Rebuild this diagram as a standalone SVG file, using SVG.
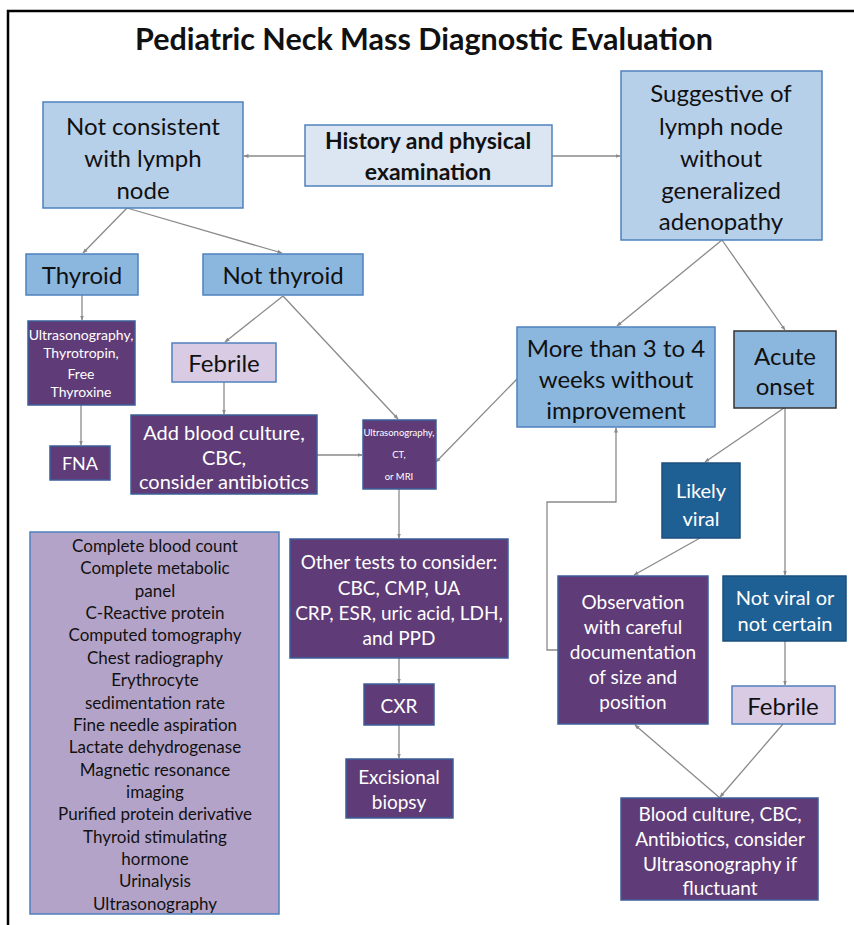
<svg xmlns="http://www.w3.org/2000/svg" width="854" height="925" viewBox="0 0 854 925">
<defs>
<marker id="ah" viewBox="0 0 10 10" refX="9" refY="5" markerWidth="5" markerHeight="5" orient="auto" markerUnits="userSpaceOnUse">
<path d="M0,1 L10,5 L0,9 z" fill="#8a8a8a"/>
</marker>
<style>
text{font-family:Lato,"Open Sans","Liberation Sans",sans-serif;text-anchor:middle;dominant-baseline:central}
.lb{fill:#b7d0ea;stroke:#4f81bd;stroke-width:1.5}
.pl{fill:#dce6f2;stroke:#4f81bd;stroke-width:1.5}
.mb{fill:#8bb7df;stroke:#4f81bd;stroke-width:1.5}
.dp{fill:#5f3b77;stroke:#3b5f9a;stroke-width:1.5}
.db{fill:#1f6094;stroke:#1a4f7c;stroke-width:1.5}
.lv{fill:#d9cbe4;stroke:#4f81bd;stroke-width:1.5}
.ls{fill:#b4a3c8;stroke:#4f81bd;stroke-width:1.5}
.dk{fill:#111}
.wt{fill:#fff}
.c{fill:none;stroke:#8a8a8a;stroke-width:1.3;marker-end:url(#ah)}
</style>
</defs>
<rect width="854" height="925" fill="#fff"/>
<path d="M8,925 V11 H854" fill="none" stroke="#000" stroke-width="2.5"/>
<text x="424" y="38" font-size="30.5" font-weight="bold" class="dk">Pediatric Neck Mass Diagnostic Evaluation</text>

<g id="connectors">
<path class="c" d="M305,156 H244"/>
<path class="c" d="M552,156 H620"/>
<path class="c" d="M127,208 L83,253"/>
<path class="c" d="M127,208 L282,253"/>
<path class="c" d="M82,295 V320"/>
<path class="c" d="M81,405 V445"/>
<path class="c" d="M283,296 L225,342"/>
<path class="c" d="M283,296 L398,419"/>
<path class="c" d="M224,382 V414"/>
<path class="c" d="M317,455 H362"/>
<path class="c" d="M722,240 L617,326"/>
<path class="c" d="M722,240 L785,330"/>
<path class="c" d="M517,379 L436,462"/>
<path class="c" d="M784,408 L705,462"/>
<path class="c" d="M785,408 V575"/>
<path class="c" d="M700,538 L634,575"/>
<path class="c" d="M558,650 H547 V502 H616 V428"/>
<path class="c" d="M785,640 V685"/>
<path class="c" d="M783,724 L720,797"/>
<path class="c" d="M720,798 L635,725"/>
<path class="c" d="M399,489 V538"/>
<path class="c" d="M399,658 V683"/>
<path class="c" d="M399,725 V758"/>
</g>

<g id="not-consistent">
<rect class="lb" x="43" y="102" width="200" height="106"/>
<text x="143" y="125" font-size="24" class="dk">Not consistent</text>
<text x="143" y="157" font-size="24" class="dk">with lymph</text>
<text x="143" y="189" font-size="24" class="dk">node</text>
</g>
<g id="history">
<rect class="pl" x="305" y="125" width="247" height="61"/>
<text x="428" y="140" font-size="23" font-weight="bold" class="dk">History and physical</text>
<text x="428" y="171" font-size="23" font-weight="bold" class="dk">examination</text>
</g>
<g id="suggestive">
<rect class="lb" x="621" y="71" width="201" height="169"/>
<text x="721" y="92" font-size="24" class="dk">Suggestive of</text>
<text x="721" y="125" font-size="24" class="dk">lymph node</text>
<text x="721" y="157" font-size="24" class="dk">without</text>
<text x="721" y="189" font-size="24" class="dk">generalized</text>
<text x="721" y="220" font-size="24" class="dk">adenopathy</text>
</g>
<g id="thyroid">
<rect class="mb" x="26" y="254" width="112" height="41"/>
<text x="82" y="274" font-size="24" class="dk">Thyroid</text>
</g>
<g id="not-thyroid">
<rect class="mb" x="203" y="254" width="160" height="41"/>
<text x="283" y="274" font-size="24" class="dk">Not thyroid</text>
</g>
<g id="thyroid-tests">
<rect class="dp" x="28" y="321" width="107" height="84"/>
<text x="81" y="334" font-size="14" class="wt">Ultrasonography,</text>
<text x="81" y="352" font-size="14" class="wt">Thyrotropin,</text>
<text x="81" y="373" font-size="14" class="wt">Free</text>
<text x="81" y="391" font-size="14" class="wt">Thyroxine</text>
</g>
<g id="fna">
<rect class="dp" x="50" y="446" width="60" height="34"/>
<text x="80" y="463" font-size="18" class="wt">FNA</text>
</g>
<g id="febrile-left">
<rect class="lv" x="172" y="343" width="104" height="39"/>
<text x="224" y="362" font-size="24" class="dk">Febrile</text>
</g>
<g id="add-blood">
<rect class="dp" x="131" y="415" width="186" height="79"/>
<text x="224" y="432" font-size="20" class="wt">Add blood culture,</text>
<text x="224" y="457" font-size="20" class="wt">CBC,</text>
<text x="224" y="481" font-size="20" class="wt">consider antibiotics</text>
</g>
<g id="imaging">
<rect class="dp" x="363" y="420" width="73" height="69"/>
<text x="399" y="432" font-size="9.5" class="wt">Ultrasonography,</text>
<text x="399" y="454" font-size="9.5" class="wt">CT,</text>
<text x="399" y="476" font-size="9.5" class="wt">or MRI</text>
</g>
<g id="more-than">
<rect class="mb" x="517" y="327" width="198" height="100"/>
<text x="616" y="347" font-size="24" class="dk">More than 3 to 4</text>
<text x="616" y="378" font-size="24" class="dk">weeks without</text>
<text x="616" y="409" font-size="24" class="dk">improvement</text>
</g>
<g id="acute">
<rect class="mb" x="734" y="331" width="102" height="77" style="stroke:#333"/>
<text x="785" y="355" font-size="24" class="dk">Acute</text>
<text x="785" y="385" font-size="24" class="dk">onset</text>
</g>
<g id="likely-viral">
<rect class="db" x="662" y="463" width="78" height="75"/>
<text x="701" y="490" font-size="20" class="wt">Likely</text>
<text x="701" y="518" font-size="20" class="wt">viral</text>
</g>
<g id="not-viral">
<rect class="db" x="723" y="576" width="123" height="65"/>
<text x="785" y="597" font-size="20" class="wt">Not viral or</text>
<text x="785" y="623" font-size="20" class="wt">not certain</text>
</g>
<g id="observation">
<rect class="dp" x="558" y="576" width="150" height="148"/>
<text x="633" y="601" font-size="19" class="wt">Observation</text>
<text x="633" y="626" font-size="19" class="wt">with careful</text>
<text x="633" y="651" font-size="19" class="wt">documentation</text>
<text x="633" y="676" font-size="19" class="wt">of size and</text>
<text x="633" y="701" font-size="19" class="wt">position</text>
</g>
<g id="febrile-right">
<rect class="lv" x="732" y="686" width="103" height="38"/>
<text x="783" y="705" font-size="24" class="dk">Febrile</text>
</g>
<g id="blood-culture">
<rect class="dp" x="621" y="798" width="197" height="102"/>
<text x="720" y="813" font-size="19" class="wt">Blood culture, CBC,</text>
<text x="720" y="838" font-size="19" class="wt">Antibiotics, consider</text>
<text x="720" y="863" font-size="19" class="wt">Ultrasonography if</text>
<text x="720" y="887" font-size="19" class="wt">fluctuant</text>
</g>
<g id="other-tests">
<rect class="dp" x="290" y="539" width="218" height="119"/>
<text x="399" y="561" font-size="19" class="wt">Other tests to consider:</text>
<text x="399" y="587" font-size="19" class="wt">CBC, CMP, UA</text>
<text x="399" y="612" font-size="19" class="wt">CRP, ESR, uric acid, LDH,</text>
<text x="399" y="637" font-size="19" class="wt">and PPD</text>
</g>
<g id="cxr">
<rect class="dp" x="364" y="684" width="70" height="41"/>
<text x="399" y="705" font-size="19" class="wt">CXR</text>
</g>
<g id="excisional">
<rect class="dp" x="346" y="759" width="107" height="59"/>
<text x="399" y="776" font-size="19" class="wt">Excisional</text>
<text x="399" y="801" font-size="19" class="wt">biopsy</text>
</g>
<g id="abbreviations">
<rect class="ls" x="30" y="532" width="249" height="382"/>
<text x="155" y="545" font-size="17" class="dk">Complete blood count</text>
<text x="155" y="567" font-size="17" class="dk">Complete metabolic</text>
<text x="155" y="590" font-size="17" class="dk">panel</text>
<text x="155" y="612" font-size="17" class="dk">C-Reactive protein</text>
<text x="155" y="634" font-size="17" class="dk">Computed tomography</text>
<text x="155" y="657" font-size="17" class="dk">Chest radiography</text>
<text x="155" y="679" font-size="17" class="dk">Erythrocyte</text>
<text x="155" y="702" font-size="17" class="dk">sedimentation rate</text>
<text x="155" y="724" font-size="17" class="dk">Fine needle aspiration</text>
<text x="155" y="746" font-size="17" class="dk">Lactate dehydrogenase</text>
<text x="155" y="769" font-size="17" class="dk">Magnetic resonance</text>
<text x="155" y="791" font-size="17" class="dk">imaging</text>
<text x="155" y="813" font-size="17" class="dk">Purified protein derivative</text>
<text x="155" y="836" font-size="17" class="dk">Thyroid stimulating</text>
<text x="155" y="858" font-size="17" class="dk">hormone</text>
<text x="155" y="880" font-size="17" class="dk">Urinalysis</text>
<text x="155" y="903" font-size="17" class="dk">Ultrasonography</text>
</g>
</svg>
